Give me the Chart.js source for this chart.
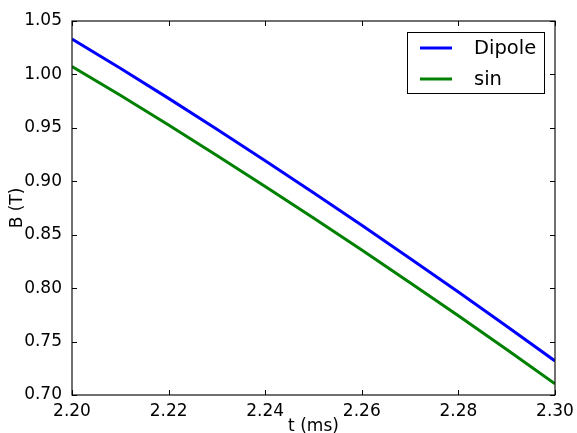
<!DOCTYPE html>
<html>
<head>
<meta charset="utf-8">
<script src="https://cdn.jsdelivr.net/npm/chart.js@4.4.0/dist/chart.umd.min.js"></script>
<style>
  html, body { margin: 0; padding: 0; background: #fff; }
  #wrap { width: 577px; height: 433px; }
</style>
</head>
<body>
<div id="wrap"><canvas id="myChart" width="577" height="433"></canvas></div>
<script>
'use strict';

// values
let times = [2.20, 2.21, 2.22, 2.23, 2.24, 2.25, 2.26, 2.27, 2.28, 2.29, 2.30];
let dipole = [1.0332, 1.0058, 0.9776, 0.9487, 0.9193, 0.8893, 0.8588, 0.8278, 0.7963, 0.7643, 0.7319];
let sinB = [1.0075, 0.9805, 0.9527, 0.9242, 0.8952, 0.8656, 0.8356, 0.8051, 0.7741, 0.7426, 0.7104];
let seriesNames = ['Dipole', 'sin'];
let seriesColors = ['#0000ff', '#008000'];
let xTicks = [2.20, 2.22, 2.24, 2.26, 2.28, 2.30];
let yTicks = [0.70, 0.75, 0.80, 0.85, 0.90, 0.95, 1.00, 1.05];

const FONT = 'DejaVu Sans';

function toPoints(ys){
  let pts = [];
  for (let i = 0; i < times.length; i++){
    pts.push({x: times[i], y: ys[i]});
  }
  return pts;
}

// box round the plot with inward ticks, like matplotlib
const frame = {
  id: 'frame',
  afterDraw(chart){
    const ctx = chart.ctx;
    const a = chart.chartArea;
    const xs = chart.scales.x;
    const ys = chart.scales.y;
    ctx.save();
    ctx.strokeStyle = '#111';
    ctx.lineWidth = 1.2;
    ctx.strokeRect(a.left, a.top, a.right - a.left, a.bottom - a.top);
    ctx.lineWidth = 1;
    ctx.strokeStyle = '#000';
    ctx.beginPath();
    for (let i = 0; i < xTicks.length; i++){
      let px = Math.round(xs.getPixelForValue(xTicks[i])) + 0.5;
      ctx.moveTo(px, a.bottom); ctx.lineTo(px, a.bottom - 5);
      ctx.moveTo(px, a.top); ctx.lineTo(px, a.top + 5);
    }
    for (let i = 0; i < yTicks.length; i++){
      let py = Math.round(ys.getPixelForValue(yTicks[i])) + 0.5;
      ctx.moveTo(a.left, py); ctx.lineTo(a.left + 5, py);
      ctx.moveTo(a.right, py); ctx.lineTo(a.right - 5, py);
    }
    ctx.stroke();

    // legend box
    let bx = 407, by = 32, bw = 137, bh = 61;
    ctx.fillStyle = '#fff';
    ctx.fillRect(bx, by, bw, bh);
    ctx.strokeStyle = '#000';
    ctx.lineWidth = 1;
    ctx.strokeRect(bx + 0.5, by + 0.5, bw, bh);
    ctx.font = '19.5px "' + FONT + '"';
    ctx.textBaseline = 'middle';
    ctx.textAlign = 'left';
    let ds = chart.data.datasets;
    for (let i = 0; i < ds.length; i++){
      let ly = by + 16 + i * 31;
      ctx.strokeStyle = ds[i].borderColor;
      ctx.lineWidth = 3;
      ctx.beginPath();
      ctx.moveTo(bx + 13, ly);
      ctx.lineTo(bx + 45, ly);
      ctx.stroke();
      ctx.fillStyle = '#000';
      ctx.fillText(ds[i].label, bx + 67, ly + 1);
    }
    ctx.restore();
  }
};

let ctx = document.getElementById('myChart').getContext('2d');
let myChart = new Chart(ctx, {
  type: 'line',
  data: {
    datasets: [{
      label: seriesNames[0],
      data: toPoints(dipole),
      borderColor: seriesColors[0],
      borderWidth: 3,
      pointRadius: 0,
      fill: false,
      tension: 0
    }, {
      label: seriesNames[1],
      data: toPoints(sinB),
      borderColor: seriesColors[1],
      borderWidth: 3,
      pointRadius: 0,
      fill: false,
      tension: 0
    }]
  },
  options: {
    responsive: false,
    animation: false,
    layout: { padding: { top: 21, right: 22, left: 0, bottom: 0 } },
    plugins: {
      legend: { display: false },
      tooltip: { enabled: false }
    },
    scales: {
      x: {
        type: 'linear',
        min: 2.20,
        max: 2.30,
        grid: { display: false },
        border: { display: false },
        afterBuildTicks(scale){
          scale.ticks = xTicks.map(v => ({value: v}));
        },
        afterFit(scale){ scale.height = 38; },
        ticks: {
          padding: -2,
          color: '#000',
          font: { family: FONT, size: 17 },
          maxRotation: 0,
          autoSkip: false,
          callback: v => v.toFixed(2)
        },
        title: {
          display: true,
          text: 't (ms)',
          color: '#000',
          font: { family: FONT, size: 17, lineHeight: 0.7 },
          padding: { top: 0, bottom: 0 }
        }
      },
      y: {
        type: 'linear',
        min: 0.70,
        max: 1.05,
        grid: { display: false },
        border: { display: false },
        afterBuildTicks(scale){
          scale.ticks = yTicks.map(v => ({value: v}));
        },
        afterFit(scale){ scale.width = 72; },
        ticks: {
          padding: 2,
          color: '#000',
          font: { family: FONT, size: 17 },
          autoSkip: false,
          callback: v => v.toFixed(2)
        },
        title: {
          display: true,
          text: 'B (T)',
          color: '#000',
          font: { family: FONT, size: 17 },
          padding: { top: 7, bottom: 0 }
        }
      }
    }
  },
  plugins: [frame]
});
</script>
</body>
</html>
